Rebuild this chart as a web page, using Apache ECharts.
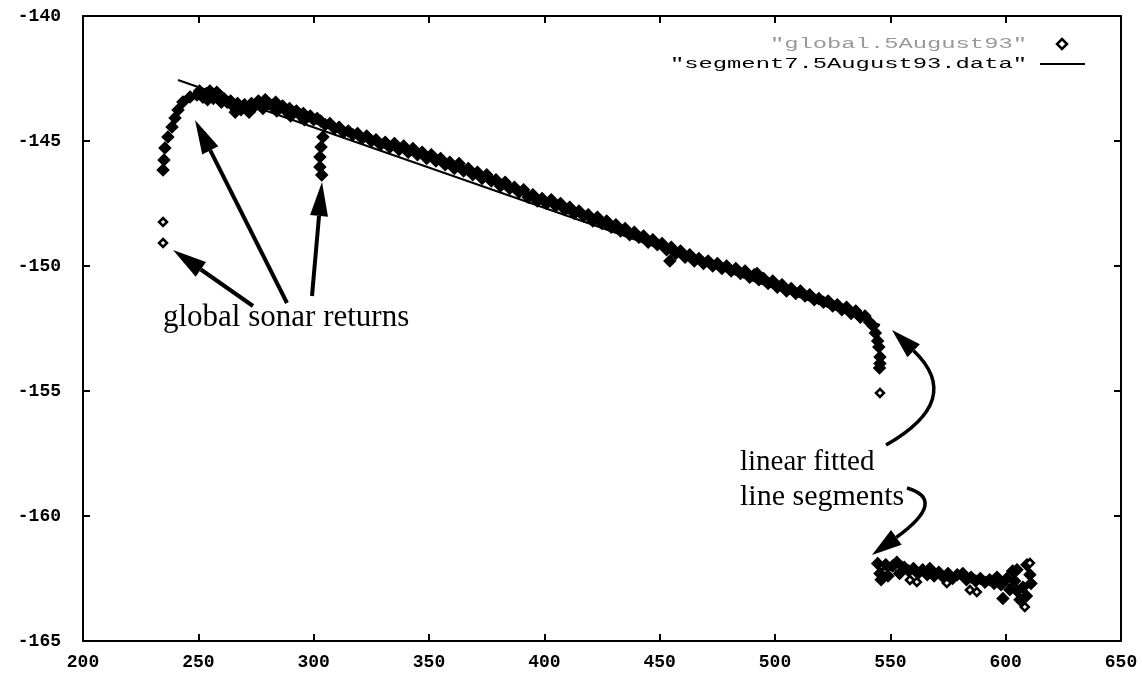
<!DOCTYPE html>
<html>
<head>
<meta charset="utf-8">
<script src="https://cdn.jsdelivr.net/npm/echarts@6/dist/echarts.min.js"></script>
<style>
  html, body { margin: 0; padding: 0; background: #fff; }
  #chart { width: 1142px; height: 674px; }
</style>
</head>
<body>
<div id="chart"></div>
<script>
// tick labels
var xTicks = [200, 250, 300, 350, 400, 450, 500, 550, 600, 650];
var yTicks = [-165, -160, -155, -150, -145, -140];

// "global.5August93" sonar returns
var risePts = [
  [234.7, -146.16], [235.1, -145.76], [235.5, -145.28], [236.8, -144.84], [238.6, -144.44],
  [239.9, -144.08], [241.2, -143.76], [243.3, -143.44], [246.4, -143.24], [249.4, -143.16]
];
var bandPts = [
  [250.5, -143.0], [252, -143.25], [253.5, -143.1], [254, -143.35], [255, -143.0], [256.5, -143.3],
  [258, -143.05], [259.5, -143.2], [260, -143.45], [261, -143.3], [262.5, -143.45], [264, -143.4],
  [265.5, -143.65], [266, -143.85], [267, -143.5], [268.5, -143.75], [270, -143.55], [271.5, -143.7],
  [272, -143.85], [273, -143.5], [274.5, -143.6], [276, -143.4], [277.5, -143.55], [278, -143.7],
  [279, -143.35], [280.5, -143.5], [282, -143.6], [283.5, -143.45], [284, -143.8], [285, -143.7],
  [286.5, -143.6], [288, -143.8], [289.5, -143.7], [290, -144.0], [291, -143.85], [292.5, -143.8],
  [294, -143.95], [295.5, -143.9], [296, -144.15], [297, -144.05], [298.5, -144.0], [300, -144.15],
  [301.5, -144.1], [303, -144.2], [305, -144.35], [307, -144.3], [309, -144.5], [311, -144.45],
  [313, -144.65], [315, -144.6], [317, -144.75], [319, -144.7], [321, -144.9], [323, -144.8],
  [325, -145.0], [327, -144.95], [329, -145.15], [331, -145.05], [333, -145.25], [335, -145.1],
  [337, -145.35], [339, -145.2], [341, -145.45], [343, -145.3], [345, -145.55], [347, -145.45],
  [349, -145.7], [351, -145.55], [353, -145.8], [355, -145.7], [357, -145.95], [359, -145.85],
  [361, -146.1], [363, -145.9], [365, -146.2], [367, -146.1], [369, -146.35], [371, -146.25],
  [373, -146.5], [375, -146.35], [377, -146.6], [379, -146.55], [381, -146.8], [383, -146.65],
  [385, -146.9], [387, -146.85], [389, -147.05], [391, -146.95], [393, -147.25], [395, -147.15],
  [397, -147.4], [399, -147.3], [401, -147.5], [403, -147.35], [405, -147.6], [407, -147.5],
  [409, -147.75], [411, -147.65], [413, -147.9], [415, -147.8], [417, -148.0], [419, -147.95],
  [421, -148.2], [423, -148.05], [425, -148.3], [427, -148.2], [429, -148.45], [431, -148.35],
  [433, -148.6], [435, -148.5], [437, -148.75], [439, -148.65], [441, -148.85], [443, -148.8],
  [445, -149.05], [447, -148.95], [449, -149.15], [451, -149.1], [453, -149.35], [454.4, -149.8],
  [455, -149.25], [457, -149.5], [459, -149.4], [461, -149.65], [463, -149.55], [465, -149.8],
  [467, -149.7], [469, -149.9], [471, -149.8], [473, -150.0], [475, -149.9], [477, -150.1],
  [479, -150.0], [481, -150.2], [483, -150.1], [485, -150.3], [487, -150.2], [489, -150.45],
  [491, -150.35], [492.2, -150.3], [493, -150.55], [495, -150.5], [497, -150.7], [499, -150.6],
  [501, -150.85], [503, -150.75], [505, -151.0], [507, -150.9], [509, -151.1], [511, -151.0],
  [513, -151.2], [515, -151.15], [517, -151.35], [519, -151.3], [521, -151.45], [523, -151.4],
  [525, -151.6], [527, -151.55], [529, -151.75], [531, -151.65], [533, -151.9], [535, -151.8],
  [537, -152.05], [539, -152.0], [541, -152.25], [542.5, -152.4]
];
var dipPts = [[304.0, -144.84], [303.2, -145.24], [302.7, -145.64], [302.7, -146.04], [303.5, -146.36]];
var dropPts = [[543.5, -152.68], [544.5, -153.0], [545, -153.24], [545.5, -153.64], [545.5, -153.9], [545.3, -154.08]];
var lowerPts = [
  [544.5, -161.9], [545.5, -162.3], [546, -162.55], [548, -161.95], [549, -162.4], [551, -162.0],
  [552.8, -161.85], [554, -162.3], [556, -162.05], [558, -162.2], [560, -162.1], [562, -162.3],
  [564, -162.15], [566, -162.35], [567.1, -162.1], [569, -162.4], [571, -162.25], [573, -162.45],
  [575, -162.3], [577, -162.5], [579, -162.35], [581.4, -162.3], [583, -162.55], [585, -162.45],
  [587, -162.6], [589, -162.5], [591, -162.65], [593, -162.55], [595, -162.7], [596.2, -162.45],
  [598, -162.75], [598.8, -163.3], [600.5, -162.5], [601.8, -162.95], [603, -162.2], [603.9, -162.6],
  [604.9, -162.15], [605, -163.0], [606.2, -163.35], [607.5, -162.85], [609, -163.2], [609.2, -161.95],
  [610.5, -162.35], [611, -162.7]
];
// isolated returns drawn as open diamonds
var hollowPts = [
  [234.7, -148.24], [234.7, -149.08], [545.5, -155.08], [558.5, -162.56], [561.5, -162.64],
  [574.5, -162.68], [584.5, -162.96], [587.5, -163.04], [610.5, -161.88], [608.3, -163.64]
];

// "segment7.5August93.data" fitted lines
var segUpper = [[241.2, -142.56], [545.5, -152.36]];
var segLower = [[545, -162.1], [611, -162.85]];

var chart = echarts.init(document.getElementById('chart'));

var globalData = risePts.concat(bandPts, dipPts, dropPts, lowerPts);
hollowPts.forEach(function (p) {
  globalData.push({ value: p, symbolSize: 8, itemStyle: { color: '#fff' } });
});

function arrow(x1, y1, x2, y2) {
  var a = Math.atan2(y2 - y1, x2 - x1);
  var L = 34, W = 9;
  var bx = x2 - L * Math.cos(a), by = y2 - L * Math.sin(a);
  return [
    { type: 'line', shape: { x1: x1, y1: y1, x2: bx, y2: by }, style: { stroke: '#000', lineWidth: 4 } },
    { type: 'polygon', shape: { points: [[x2, y2], [bx - W * Math.sin(a), by + W * Math.cos(a)], [bx + W * Math.sin(a), by - W * Math.cos(a)]] }, style: { fill: '#000' } }
  ];
}
function curvedArrow(x1, y1, cx, cy, x2, y2) {
  var a = Math.atan2(y2 - cy, x2 - cx);
  var L = 30, W = 9;
  var bx = x2 - L * Math.cos(a), by = y2 - L * Math.sin(a);
  return [
    { type: 'bezierCurve', shape: { x1: x1, y1: y1, cpx1: cx, cpy1: cy, x2: bx, y2: by }, style: { stroke: '#000', lineWidth: 3.5, fill: null } },
    { type: 'polygon', shape: { points: [[x2, y2], [bx - W * Math.sin(a), by + W * Math.cos(a)], [bx + W * Math.sin(a), by - W * Math.cos(a)]] }, style: { fill: '#000' } }
  ];
}

var annot = [].concat(
  arrow(253, 306, 173, 250),
  arrow(287, 303, 195, 120),
  arrow(312, 296, 322, 182),
  curvedArrow(886, 445, 965, 400, 892, 330),
  curvedArrow(907, 488, 948, 500, 872, 555)
);
annot.push(
  { type: 'text', x: 163, y: 318, style: { text: 'global sonar returns', font: '31px "Liberation Serif"', fill: '#000', verticalAlign: 'middle' } },
  { type: 'text', x: 740, y: 462, style: { text: 'linear fitted', font: '29px "Liberation Serif"', fill: '#000', verticalAlign: 'middle' } },
  { type: 'text', x: 740, y: 497, style: { text: 'line segments', font: '30px "Liberation Serif"', fill: '#000', verticalAlign: 'middle' } },
  // legend
  { type: 'text', x: 1027, y: 44, scaleX: 1.7, style: { text: '"global.5August93"', font: '14px "Liberation Mono"', fill: '#999', align: 'right', verticalAlign: 'middle' } },
  { type: 'polygon', shape: { points: [[1062, 39], [1067, 44], [1062, 49], [1057, 44]] }, style: { fill: '#fff', stroke: '#000', lineWidth: 2.5 } },
  { type: 'text', x: 1027, y: 64, scaleX: 1.7, style: { text: '"segment7.5August93.data"', font: '14px "Liberation Mono"', fill: '#000', align: 'right', verticalAlign: 'middle' } },
  { type: 'line', shape: { x1: 1040, y1: 64, x2: 1085, y2: 64 }, style: { stroke: '#000', lineWidth: 2 } }
);

var axisFont = { color: '#000', fontFamily: 'Liberation Mono', fontSize: 18, fontWeight: 'bold' };
var frameLine = { show: true, lineStyle: { color: '#000', width: 2 } };
var innerTick = { show: true, inside: true, length: 7, lineStyle: { color: '#000', width: 2 } };

chart.setOption({
  animation: false,
  backgroundColor: '#fff',
  grid: { left: 83, right: 21, top: 16, bottom: 33 },
  xAxis: [
    { type: 'value', position: 'bottom', min: xTicks[0], max: xTicks[xTicks.length - 1], interval: xTicks[1] - xTicks[0],
      axisLine: frameLine, axisTick: innerTick, splitLine: { show: false },
      axisLabel: Object.assign({ margin: 12, showMinLabel: true, showMaxLabel: true }, axisFont) },
    { type: 'value', position: 'top', min: xTicks[0], max: xTicks[xTicks.length - 1], interval: xTicks[1] - xTicks[0],
      axisLine: frameLine, axisTick: innerTick, splitLine: { show: false }, axisLabel: { show: false } }
  ],
  yAxis: [
    { type: 'value', position: 'left', min: yTicks[0], max: yTicks[yTicks.length - 1], interval: yTicks[1] - yTicks[0],
      axisLine: frameLine, axisTick: innerTick, splitLine: { show: false },
      axisLabel: Object.assign({ margin: 22, showMinLabel: true, showMaxLabel: true }, axisFont) },
    { type: 'value', position: 'right', min: yTicks[0], max: yTicks[yTicks.length - 1], interval: yTicks[1] - yTicks[0],
      axisLine: frameLine, axisTick: innerTick, splitLine: { show: false }, axisLabel: { show: false } }
  ],
  series: [
    { name: 'segment7.5August93.data', type: 'line', data: segUpper, symbol: 'none', z: 1,
      lineStyle: { color: '#000', width: 2 } },
    { name: 'segment7.5August93.data', type: 'line', data: segLower, symbol: 'none', z: 1,
      lineStyle: { color: '#000', width: 2 } },
    { name: 'global.5August93', type: 'scatter', data: globalData, symbol: 'diamond', symbolSize: 10, z: 2,
      itemStyle: { color: '#000', borderColor: '#000', borderWidth: 2.5, opacity: 1 } }
  ],
  graphic: annot
});
</script>
</body>
</html>
